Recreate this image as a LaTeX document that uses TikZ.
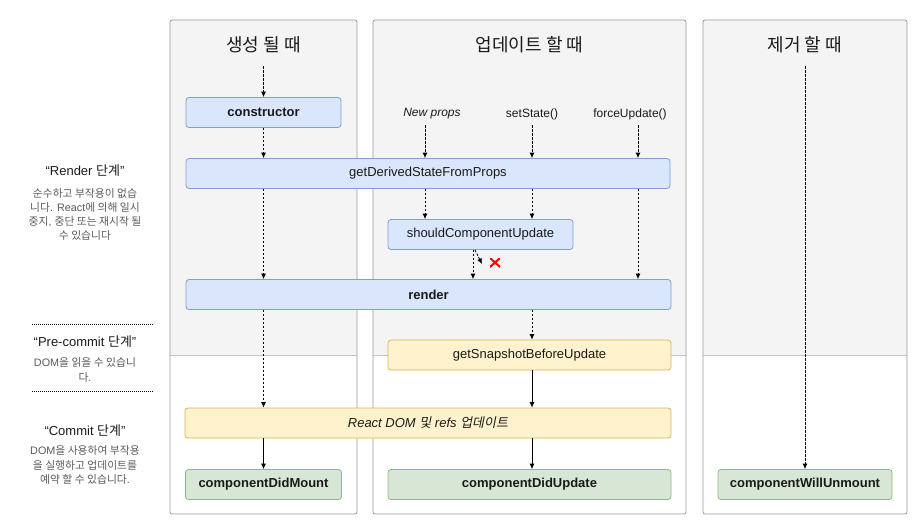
\documentclass[tikz,border=0pt]{standalone}
\usepackage{fontspec}
\setmainfont{Liberation Sans}
\newfontfamily\kr[AutoFakeSlant=0.2]{Noto Sans CJK KR}
\newcommand\kor[1]{{\kr #1}}
\usetikzlibrary{arrows.meta}
\definecolor{colbg}{HTML}{F4F4F4}
\definecolor{colborder}{HTML}{9A9A9A}
\definecolor{sepline}{HTML}{C4C4C4}
\definecolor{bfill}{HTML}{DAE6FB}
\definecolor{bdraw}{HTML}{7F9FD8}
\definecolor{yfill}{HTML}{FFF2CC}
\definecolor{ydraw}{HTML}{D6B656}
\definecolor{gfill}{HTML}{D8E7D5}
\definecolor{gdraw}{HTML}{8DBA7A}
\definecolor{txt}{HTML}{1A1A1A}
\definecolor{desc}{HTML}{5A5A5A}
\tikzset{
  box/.style={draw, rounded corners=3pt, line width=0.8pt, inner sep=0pt, minimum height=30pt, text=txt, font=\fontsize{13}{15}\selectfont},
  bluebox/.style={box, fill=bfill, draw=bdraw},
  yellowbox/.style={box, fill=yfill, draw=ydraw},
  greenbox/.style={box, fill=gfill, draw=gdraw},
  column/.style={draw=colborder, line width=0.8pt, rounded corners=2pt},
  coltitle/.style={font=\kr\fontsize{18}{21}\selectfont, text=txt},
  trigger/.style={font=\fontsize{12}{14}\selectfont, text=txt, inner sep=3pt},
  conn/.style={line width=0.8pt, -{Latex[length=5.5pt,width=5pt]}},
  dconn/.style={conn, dash pattern=on 2.5pt off 1.5pt},
  phase/.style={font=\fontsize{13}{15}\selectfont, text=txt},
  phasedesc/.style={font=\fontsize{10.8}{14.3}\selectfont, text=desc, align=center},
  divider/.style={line width=1pt, dash pattern=on 1pt off 1pt},
  xmark/.style={minimum width=10pt, minimum height=9pt, inner sep=0pt,
    path picture={\draw[red, line width=2pt]
      (path picture bounding box.north west) -- (path picture bounding box.south east)
      (path picture bounding box.south west) -- (path picture bounding box.north east);}}
}
\begin{document}
\begin{tikzpicture}[x=1pt,y=-1pt]
\useasboundingbox (0,0) rectangle (922,523);
% columns
\foreach \l/\r in {170/357, 373/686, 703/907}{
  \fill[colbg, rounded corners=2pt] (\l,20) rectangle (\r,355);
  \draw[sepline, line width=0.8pt] (\l,355) -- (\r,355);
  \draw[column] (\l,20) rectangle (\r,514);
}
\node[coltitle] (t1) at (263.5,45) {생성 될 때};
\node[coltitle] (t2) at (529.5,45) {업데이트 할 때};
\node[coltitle] (t3) at (805,45) {제거 할 때};

% left phase labels
\node[phase] (p1) at (85,171) {“Render \kor{단계}”};
\node[phasedesc] (d1) at (85,214.5) {\kor{순수하고 부작용이 없습}\\\kor{니다}. React\kor{에 의해 일시}\\\kor{중지}, \kor{중단 또는 재시작 될}\\\kor{수 있습니다}};
\coordinate (l1a) at (32,324);
\coordinate (l1b) at (154,324);
\draw[divider] (l1a) -- (l1b);
\node[phase] (p2) at (85,342) {“Pre-commit \kor{단계}”};
\node[phasedesc] (d2) at (85,370) {DOM\kor{을 읽을 수 있습니}\\\kor{다}.};
\coordinate (l2a) at (32,391);
\coordinate (l2b) at (154,391);
\draw[divider] (l2a) -- (l2b);
\node[phase] (p3) at (85,431) {“Commit \kor{단계}”};
\node[phasedesc] (d3) at (85,465) {DOM\kor{을 사용하여 부작용}\\\kor{을 실행하고 업데이트를}\\\kor{예약 할 수 있습니다}.};

% nodes
\node[bluebox, minimum width=155pt, font=\fontsize{13}{15}\selectfont\bfseries] (ctor) at (263.5,112.5) {constructor};
\node[bluebox, minimum width=484pt] (gdsfp) at (428,173.5) {getDerivedStateFromProps};
\node[bluebox, minimum width=185pt] (scu) at (480.5,234.5) {shouldComponentUpdate};
\node[bluebox, minimum width=485pt, font=\fontsize{13}{15}\selectfont\bfseries] (render) at (428.5,294.5) {render};
\node[yellowbox, minimum width=283pt] (gsbu) at (529.5,355) {getSnapshotBeforeUpdate};
\node[yellowbox, minimum width=486pt, font=\fontsize{13}{15}\selectfont\itshape] (rdom) at (428,423) {React DOM \kor{및} refs \kor{업데이트}};
\node[greenbox, minimum width=156pt, font=\fontsize{13}{15}\selectfont\bfseries] (cdm) at (263.5,484.5) {componentDidMount};
\node[greenbox, minimum width=283pt, font=\fontsize{13}{15}\selectfont\bfseries] (cdu) at (529.5,484.5) {componentDidUpdate};
\node[greenbox, minimum width=174pt, font=\fontsize{13}{15}\selectfont\bfseries] (cwu) at (805,484.5) {componentWillUnmount};

% triggers
\node[trigger, font=\fontsize{12}{14}\selectfont\itshape] (np) at (432,114) {New props};
\node[trigger] (ss) at (532,114) {setState()};
\node[trigger] (fu) at (630,114) {forceUpdate()};
\coordinate (npx) at (425,125);
\coordinate (ssx) at (532,125);
\coordinate (fux) at (638,125);

% column 1 connectors
\coordinate (c1top) at (263.5,66);
\draw[dconn] (c1top) -- (ctor.north);
\draw[dconn] (ctor.south) -- (ctor.south |- gdsfp.north);
\draw[dconn] (ctor.south |- gdsfp.south) -- (ctor.south |- render.north);
\draw[dconn] (ctor.south |- render.south) -- (ctor.south |- rdom.north);
\draw[conn] (ctor.south |- rdom.south) -- (cdm.north);

% column 2 connectors
\draw[dconn] (npx) -- (npx |- gdsfp.north);
\draw[dconn] (ssx) -- (ssx |- gdsfp.north);
\draw[dconn] (fux) -- (fux |- gdsfp.north);
\draw[dconn] (npx |- gdsfp.south) -- (npx |- scu.north);
\draw[dconn] (ssx |- gdsfp.south) -- (ssx |- scu.north);
\draw[dconn] (fux |- gdsfp.south) -- (fux |- render.north);
\coordinate (s1) at ([xshift=-7.5pt]scu.south);
\draw[dconn] (s1) -- (s1 |- render.north);
\coordinate (s2) at ([xshift=-5.5pt]scu.south);
\coordinate (s2end) at (482,264);
\draw[dconn] (s2) -- (s2end);
\node[xmark] (nox) at (495,262.5) {};
\draw[dconn] (ssx |- render.south) -- (ssx |- gsbu.north);
\draw[conn] (ssx |- gsbu.south) -- (ssx |- rdom.north);
\draw[conn] (ssx |- rdom.south) -- (ssx |- cdu.north);

% column 3 connector
\coordinate (c3top) at (805,66);
\draw[dconn] (c3top) -- (cwu.north);
\end{tikzpicture}
\end{document}
